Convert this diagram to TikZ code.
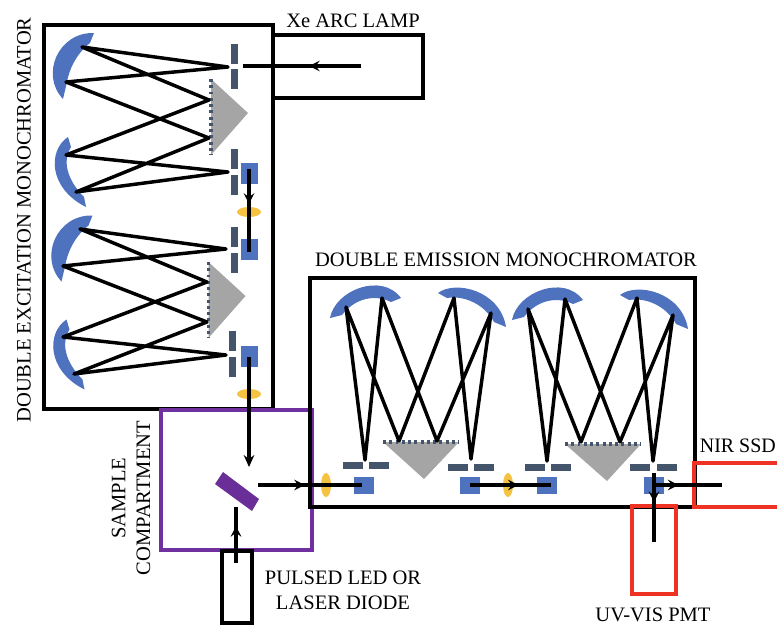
\documentclass[tikz,border=0pt]{standalone}
\usepackage{fontspec}
\setmainfont{Liberation Serif}
\usetikzlibrary{arrows.meta,decorations.markings}
\definecolor{mirrorblue}{HTML}{4F72BE}
\definecolor{slate}{HTML}{44546A}
\definecolor{lensyellow}{HTML}{F5C242}
\definecolor{prismgray}{HTML}{A5A5A5}
\definecolor{cellpurple}{HTML}{7030A0}
\definecolor{detred}{HTML}{EE3224}
\tikzset{
  ray/.style={line width=2.6pt,line join=round},
  frame/.style={line width=2.6pt},
  beam/.style={line width=2.6pt},
  midarrow/.style={postaction={decorate,decoration={markings,mark=at position #1 with {\arrow{Stealth[length=8pt,width=8pt,inset=3pt]}}}}},
  grating/.style={line width=2.4pt,slate,dash pattern=on 2.2pt off 2.5pt},
  lbl/.style={font=\fontsize{15.4pt}{18.5pt}\selectfont,align=center,inner sep=0pt}
}
\newcommand{\slitv}[3]{\fill[slate] (#1,#2) rectangle ++(7,20); \fill[slate] (#1,#3) rectangle ++(7,20);}
\newcommand{\slith}[3]{\fill[slate] (#1,#3) rectangle ++(20,7); \fill[slate] (#2,#3) rectangle ++(20,7);}
\newcommand{\bluebox}[2]{\fill[mirrorblue] (#1,#2) rectangle ++(20,17);}
\newcommand{\bluetall}[2]{\fill[mirrorblue] (#1,#2) rectangle ++(17,21);}
\newcommand{\lensh}[2]{\fill[lensyellow] (#1,#2) ellipse (12 and 5);}
\newcommand{\lensv}[2]{\fill[lensyellow] (#1,#2) ellipse (5 and 12);}
\newcommand{\foldrays}[1]{\draw[ray] (#1s1) -- (#1a1) -- (#1g1) -- (#1b1) -- (#1s2) -- (#1b2) -- (#1g2) -- (#1a2) -- cycle;}
\newcommand{\prismv}[3]{\fill[prismgray] (#1,#2) -- (#1,#2+76) -- (#1+37,#3) -- cycle; \draw[grating] (#1,#2) -- (#1,#2+76);}
\newcommand{\prismh}[3]{\fill[prismgray] (#1,#2) -- (#1+76,#2) -- (#3,#2+37) -- cycle; \draw[grating] (#1,#2) -- (#1+76,#2);}

\begin{document}
\begin{tikzpicture}[x=0.75pt,y=-0.75pt]
	\useasboundingbox (0,0) rectangle (777,625);
	% excitation side
	\foreach \dx/\dy in {0/0,-1.5/182.5}{
		\begin{scope}[shift={(\dx,\dy)}]
			\fill[mirrorblue] (94,33) .. controls (58,32) and (40,75) .. (63,99) -- (67,82) .. controls (69,70) and (76,54) .. (90,43) -- cycle;
			\fill[mirrorblue] (68,137) .. controls (48,150) and (48,188) .. (86,207) -- (84,197) .. controls (72,185) and (60,165) .. (71,147) -- cycle;
		\end{scope}
	}
	\prismv{211}{79}{113} \prismv{208.5}{262}{296}
	\slitv{231}{44}{69} \slitv{231}{149}{175}
	\slitv{231}{227}{253} \slitv{229}{331}{357}
	\bluetall{241}{163} \bluetall{241}{239} \bluetall{241}{346}
	\lensh{249}{212} \lensh{249}{394}
	\coordinate (xas1) at (228,67); \coordinate (xaa1) at (82,47); \coordinate (xaa2) at (66,82);
	\coordinate (xag1) at (209,100); \coordinate (xag2) at (209,138);
	\coordinate (xab1) at (66,155); \coordinate (xab2) at (76,192); \coordinate (xas2) at (228,172);
	\coordinate (xbs1) at (226,249); \coordinate (xba1) at (80,229); \coordinate (xba2) at (63,266);
	\coordinate (xbg1) at (207,282); \coordinate (xbg2) at (207,322);
	\coordinate (xbb1) at (63,337); \coordinate (xbb2) at (74,374); \coordinate (xbs2) at (226,355);
	\foldrays{xa} \foldrays{xb}
	\draw[frame] (44,25) rectangle (273,409);
	\draw[frame] (273,35) rectangle (423,98);
	% sample
	\draw[line width=2.4pt,cellpurple] (161,410) rectangle (312,550);
	\fill[cellpurple!95!black] (223,472) -- (259,499) -- (252,511) -- (215,484) -- cycle;
	\draw[frame] (222,551) rectangle (252,623);
	% emission side
	\foreach \dx/\dy in {0/0,182/2}{
		\begin{scope}[shift={(\dx,\dy)}]
			\fill[mirrorblue] (330,318) .. controls (335,290) and (382,272) .. (401,298) -- (391,302) .. controls (375,294) and (355,298) .. (342,315) -- cycle;
			\fill[mirrorblue] (438,293) .. controls (455,280) and (500,290) .. (506,327) -- (494,322) .. controls (485,305) and (465,295) .. (447,298) -- cycle;
		\end{scope}
	}
	\prismh{383}{442}{424} \prismh{565}{444}{607}
	\slith{343}{369}{462} \slith{448}{474}{464}
	\slith{525}{551}{464} \slith{630}{657}{464}
	\bluebox{354}{477} \bluebox{460}{477} \bluebox{537}{477} \bluebox{644}{477}
	\lensv{326}{485} \lensv{508}{485}
	\coordinate (mas1) at (365,460); \coordinate (maa1) at (346,307); \coordinate (maa2) at (382,298);
	\coordinate (mag1) at (399,441); \coordinate (mag2) at (437,441);
	\coordinate (mab1) at (454,298); \coordinate (mab2) at (491,313); \coordinate (mas2) at (471,459);
	\coordinate (mbs1) at (547,461); \coordinate (mba1) at (528,309); \coordinate (mba2) at (565,299);
	\coordinate (mbg1) at (581,442); \coordinate (mbg2) at (620,442);
	\coordinate (mbb1) at (637,298); \coordinate (mbb2) at (673,315); \coordinate (mbs2) at (653,461);
	\foldrays{ma} \foldrays{mb}
	\draw[frame] (310,278) rectangle (695,507);
	% detectors
	\draw[line width=2.6pt,detred] (632,506) rectangle (676,594);
	\draw[line width=2.6pt,detred] (780,463) -- (694,463) -- (694,507) -- (780,507);
	% beams
	\coordinate (lampout) at (361,66); \coordinate (lampin) at (243,66);
	\coordinate (xtop) at (249,169); \coordinate (xmid) at (249,252);
	\coordinate (xlow) at (249,357); \coordinate (xcell) at (249,467);
	\coordinate (cellout) at (258,485); \coordinate (cellin) at (362,485);
	\coordinate (ledout) at (236,563); \coordinate (ledin) at (236,507);
	\coordinate (mida) at (470,485); \coordinate (midb) at (551,485);
	\coordinate (nirs) at (654,485); \coordinate (nire) at (722,485);
	\coordinate (pmts) at (654,473); \coordinate (pmte) at (654,542);
	\draw[beam,midarrow=0.44] (lampout) -- (lampin);
	\draw[beam,midarrow=0.42] (xtop) -- (xmid);
	\draw[beam,-{Stealth[length=9pt,width=8pt,inset=3pt]}] (xlow) -- (xcell);
	\draw[beam,midarrow=0.45] (cellout) -- (cellin);
	\draw[beam,midarrow=0.66] (ledout) -- (ledin);
	\draw[beam,midarrow=0.6] (mida) -- (midb);
	\draw[beam,midarrow=0.36] (nirs) -- (nire);
	\draw[beam,midarrow=0.42] (pmts) -- (pmte);
	% labels
	\node[lbl] (lamptxt) at (353,21) {Xe ARC LAMP};
	\node[lbl,rotate=90] (exttxt) at (24,220) {DOUBLE EXCITATION MONOCHROMATOR};
	\node[lbl] (emtxt) at (506,260) {DOUBLE EMISSION MONOCHROMATOR};
	\node[lbl,rotate=90] (celltxt) at (131,498) {SAMPLE\\COMPARTMENT};
	\node[lbl] (ledtxt) at (343,590) {PULSED LED OR\\LASER DIODE};
	\node[lbl] (pmttxt) at (653,615) {UV-VIS PMT};
	\node[lbl,anchor=east,xscale=0.97] (nirtxt) at (776,446) {NIR SSD};
\end{tikzpicture}
\end{document}
